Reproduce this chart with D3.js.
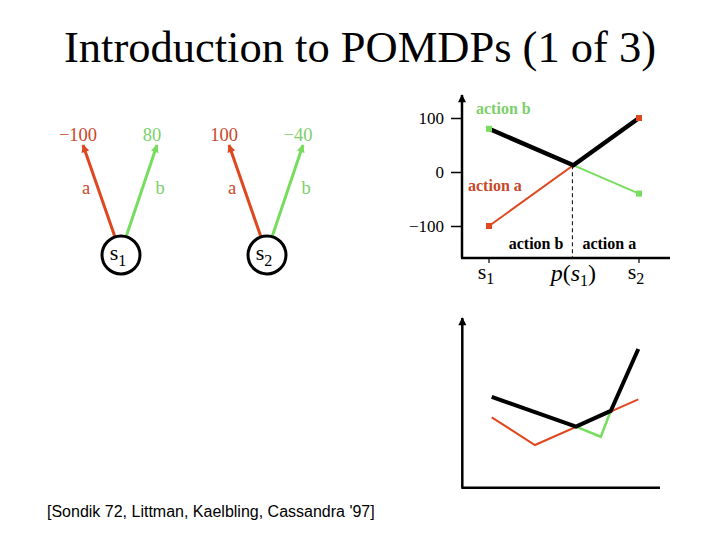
<!DOCTYPE html>
<html><head><meta charset="utf-8">
<script src="https://cdn.jsdelivr.net/npm/d3@7"></script>
<style>body{margin:0;background:#fff}svg{display:block}</style>
</head><body>
<script>
// ---- data ----
const states = ["s1", "s2"];
const rewardA = [-100, 100];   // action a
const rewardB = [80, -40];     // action b
const yTicks = [-100, 0, 100];
// piecewise value function (later horizon), x = belief position 0..1, y = value
const vBlack = [[0, 53.9], [0.575, 36.2], [0.812, 45.5], [1, 82.2]];
const vRed = [[0, 41.7], [0.295, 25.3], [1, 52.4]];
const vGreen = [[0.575, 36.2], [0.744, 30.2], [0.812, 45.5]];

const RED = "#e0471f", GREEN = "#77dd5f", RED_T = "#c9472a", GREEN_T = "#7ccf6b";
const serif = "'Liberation Serif','Times New Roman',serif";

const svg = d3.select("body").append("svg").attr("width", 720).attr("height", 540);
const defs = svg.append("defs");
function mk(id, color, w, h) {
  defs.append("marker").attr("id", id).attr("viewBox", "0 0 10 10").attr("refX", 9).attr("refY", 5)
    .attr("markerWidth", w).attr("markerHeight", h).attr("orient", "auto").attr("markerUnits", "userSpaceOnUse")
    .append("path").attr("d", "M0,0L10,5L0,10z").attr("fill", color);
}
mk("arR", RED, 10, 8); mk("arG", GREEN, 10, 8); mk("arK", "#000", 9, 8);

// title
svg.append("text").attr("x", 360).attr("y", 62).attr("text-anchor", "middle")
  .attr("font-family", serif).attr("font-size", 44.5).text("Introduction to POMDPs (1 of 3)");
svg.append("text").attr("x", 47).attr("y", 517).attr("font-family", "'Liberation Sans',Arial,sans-serif")
  .attr("font-size", 16).text("[Sondik 72, Littman, Kaelbling, Cassandra '97]");

// ---- trees ----
const xTree = d3.scalePoint().domain(states).range([121, 267]);
const fmt = d3.format("d");
states.forEach((s, i) => {
  const cx = xTree(s), cy = 255, r = 19;
  const g = svg.append("g");
  const arrows = [
    {dx0: -6, dx1: -38, val: rewardA[i], lab: "a", c: RED, ct: RED_T, m: "arR", ldx: -35},
    {dx0: 5, dx1: 36, val: rewardB[i], lab: "b", c: GREEN, ct: GREEN_T, m: "arG", ldx: 39}
  ];
  arrows.forEach(a => {
    g.append("line").attr("x1", cx + a.dx0).attr("y1", cy - r + 1).attr("x2", cx + a.dx1).attr("y2", 145)
      .attr("stroke", a.c).attr("stroke-width", 3).attr("marker-end", `url(#${a.m})`);
    g.append("text").attr("x", cx + a.dx1 - 5).attr("y", 141).attr("text-anchor", "middle")
      .attr("font-family", serif).attr("font-size", 18.5).attr("fill", a.ct).text(fmt(a.val));
    g.append("text").attr("x", cx + a.ldx).attr("y", 194).attr("text-anchor", "middle")
      .attr("font-family", serif).attr("font-size", 18.5).attr("fill", a.ct).text(a.lab);
  });
  g.append("circle").attr("cx", cx).attr("cy", cy).attr("r", r).attr("fill", "#fff")
    .attr("stroke", "#000").attr("stroke-width", 3);
  const t = g.append("text").attr("x", cx - 3).attr("y", cy + 5).attr("text-anchor", "middle")
    .attr("font-family", serif).attr("font-size", 22).text("s");
  t.append("tspan").attr("font-size", 16).attr("dy", 6).text(s.slice(1));
});

// ---- top-right chart ----
const xT = d3.scaleLinear().domain([0, 1]).range([489, 639]);
const yT = d3.scaleLinear().domain([-100, 100]).range([226, 118]);
const axX0 = 462, axY0 = 258;
const yAxis = d3.axisLeft(yT).tickValues(yTicks).tickSize(11).tickFormat(fmt);
const ga = svg.append("g").attr("transform", `translate(${axX0},0)`).call(yAxis);
ga.select(".domain").remove();
ga.selectAll(".tick line").attr("stroke", "#000").attr("stroke-width", 1.5);
ga.selectAll(".tick text").attr("font-family", serif).attr("font-size", 17).attr("fill", "#000").attr("x", -18);
svg.append("line").attr("x1", axX0).attr("y1", axY0).attr("x2", axX0).attr("y2", 95)
  .attr("stroke", "#000").attr("stroke-width", 2.5).attr("marker-end", "url(#arK)");
svg.append("line").attr("x1", axX0 - 1).attr("y1", axY0).attr("x2", 670).attr("y2", axY0)
  .attr("stroke", "#000").attr("stroke-width", 2.5);
[0, 1].forEach(v => svg.append("line").attr("x1", xT(v)).attr("x2", xT(v)).attr("y1", axY0).attr("y2", axY0 + 5)
  .attr("stroke", "#000").attr("stroke-width", 1.2));

// intersection
const tI = (rewardB[0] - rewardA[0]) / ((rewardA[1] - rewardA[0]) - (rewardB[1] - rewardB[0]));
const vI = rewardA[0] + (rewardA[1] - rewardA[0]) * tI;
svg.append("line").attr("x1", xT(tI) - 1).attr("x2", xT(tI) - 1).attr("y1", yT(vI)).attr("y2", axY0)
  .attr("stroke", "#000").attr("stroke-width", 1).attr("stroke-dasharray", "4,3");

const line = d3.line().x(d => xT(d[0])).y(d => yT(d[1]));
svg.append("path").attr("d", line([[0, rewardA[0]], [1, rewardA[1]]])).attr("stroke", RED).attr("stroke-width", 2).attr("fill", "none");
svg.append("path").attr("d", line([[0, rewardB[0]], [1, rewardB[1]]])).attr("stroke", GREEN).attr("stroke-width", 2).attr("fill", "none");
svg.append("path").attr("d", line([[0, rewardB[0]], [tI, vI], [1, rewardA[1]]]))
  .attr("stroke", "#000").attr("stroke-width", 4.5).attr("fill", "none");
[[0, rewardA[0], RED], [1, rewardA[1], RED], [0, rewardB[0], GREEN], [1, rewardB[1], GREEN]].forEach(p =>
  svg.append("rect").attr("x", xT(p[0]) - 3).attr("y", yT(p[1]) - 3).attr("width", 6).attr("height", 6).attr("fill", p[2]));

const boldT = (x, y, txt, c, anchor) => svg.append("text").attr("x", x).attr("y", y).attr("text-anchor", anchor || "start")
  .attr("font-family", serif).attr("font-size", 16).attr("font-weight", "bold").attr("fill", c).text(txt);
boldT(xT(0) - 13, 114, "action b", GREEN_T);
boldT(xT(0) - 21, 191, "action a", RED_T);
boldT(xT(tI) - 10, 249, "action b", "#000", "end");
boldT(xT(tI) + 9, 249, "action a", "#000");

states.forEach((s, i) => {
  const t = svg.append("text").attr("x", xT(i) - 3).attr("y", 279).attr("text-anchor", "middle")
    .attr("font-family", serif).attr("font-size", 22).text("s");
  t.append("tspan").attr("font-size", 16).attr("dy", 5).text(s.slice(1));
});
const pt = svg.append("text").attr("x", xT(tI)).attr("y", 281).attr("text-anchor", "middle")
  .attr("font-family", serif).attr("font-size", 24);
pt.append("tspan").attr("font-style", "italic").text("p");
pt.append("tspan").text("(");
pt.append("tspan").attr("font-style", "italic").text("s");
pt.append("tspan").attr("font-size", 16).attr("dy", 5).text("1");
pt.append("tspan").attr("dy", -5).text(")");

// ---- bottom chart ----
const xB = d3.scaleLinear().domain([0, 1]).range([491.7, 638.3]);
const yB = d3.scaleLinear().domain([0, 100]).range([487.7, 319]);
const bx0 = 462.3;
svg.append("line").attr("x1", bx0).attr("y1", yB(0)).attr("x2", bx0).attr("y2", 318)
  .attr("stroke", "#000").attr("stroke-width", 2.5).attr("marker-end", "url(#arK)");
svg.append("line").attr("x1", bx0 - 1).attr("y1", yB(0)).attr("x2", 660).attr("y2", yB(0))
  .attr("stroke", "#000").attr("stroke-width", 2.5);
const lineB = d3.line().x(d => xB(d[0])).y(d => yB(d[1]));
svg.append("path").attr("d", lineB(vRed)).attr("stroke", RED).attr("stroke-width", 2).attr("fill", "none");
svg.append("path").attr("d", lineB(vGreen)).attr("stroke", GREEN).attr("stroke-width", 2.5).attr("fill", "none");
svg.append("path").attr("d", lineB(vBlack)).attr("stroke", "#000").attr("stroke-width", 4).attr("fill", "none");
</script>
</body></html>
